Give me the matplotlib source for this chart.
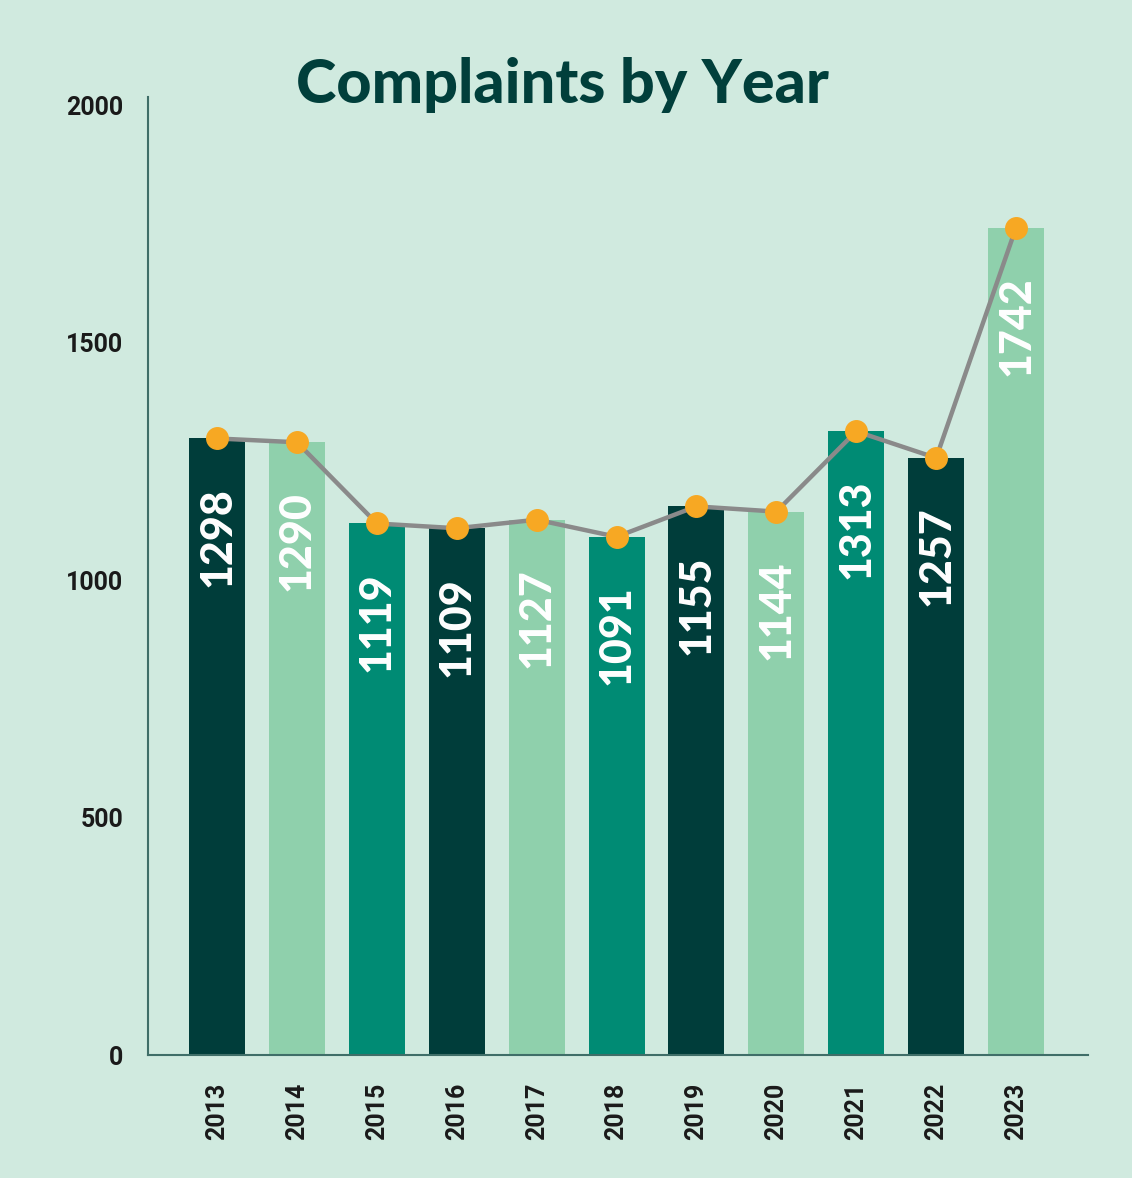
import matplotlib
matplotlib.use("Agg")
import matplotlib.pyplot as plt

years = ["2013", "2014", "2015", "2016", "2017", "2018", "2019", "2020", "2021", "2022", "2023"]
complaints = [1298, 1290, 1119, 1109, 1127, 1091, 1155, 1144, 1313, 1257, 1742]
yticks = [0, 500, 1000, 1500, 2000]

bg = "#D0EADF"
palette = ["#003D3A", "#8FD0AC", "#008B74"]
colors = [palette[i % 3] for i in range(len(years))]

fig = plt.figure(figsize=(11.32, 11.78), dpi=100, facecolor=bg)
ax = fig.add_axes([0.1307, 0.1044, 0.9611 - 0.1307, 0.9177 - 0.1044])
ax.set_facecolor(bg)

x = list(range(len(years)))
ax.bar(x, complaints, width=0.70, color=colors, zorder=2)
ax.plot(x, complaints, color="#8A8A8A", lw=3.2, zorder=3,
        marker="o", markersize=15.5, markerfacecolor="#F7A823", markeredgecolor="#F7A823")

for xi, v in zip(x, complaints):
    ax.annotate(str(v), (xi, v), xytext=(0, -35), textcoords="offset points",
                rotation=90, ha="center", va="top", color="white",
                fontsize=31, fontweight="black", family=["Lato", "DejaVu Sans"], zorder=4)

ax.set_xlim(-0.865, 10.9)
ax.set_ylim(0, 2017)
ax.set_yticks(yticks)
ax.set_yticklabels([str(t) for t in yticks])
ax.set_xticks(x)
ax.set_xticklabels(years, rotation=90)

tick_font = ["Roboto", "DejaVu Sans"]
for lab in ax.get_yticklabels() + ax.get_xticklabels():
    lab.set_family(tick_font); lab.set_fontweight("bold"); lab.set_fontsize(18); lab.set_color("#1a1a1a")

ax.tick_params(axis="both", length=0)
ax.tick_params(axis="y", pad=18)
ax.tick_params(axis="x", pad=20)
for s in ["top", "right"]:
    ax.spines[s].set_visible(False)
for s in ["left", "bottom"]:
    ax.spines[s].set_color("#3F6E68")
    ax.spines[s].set_linewidth(1.5)

fig.text(0.497, 1 - 103 / 1178, "Complaints by Year", ha="center", va="baseline",
         fontsize=44, fontweight="black", color="#013F3B", family=["Lato", "DejaVu Sans"])

fig.savefig("out.png", dpi=100, facecolor=bg)
